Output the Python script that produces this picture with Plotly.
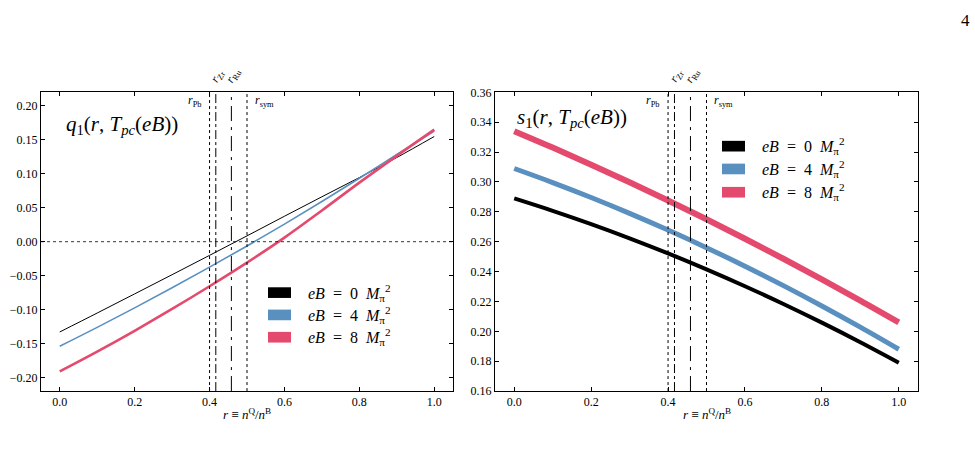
import plotly.graph_objects as go

W, H = 975, 464

# ---------------- data ----------------
r = [0.0, 0.1, 0.2, 0.3, 0.4, 0.5, 0.6, 0.7, 0.8, 0.9, 1.0]

q1_eB0 = [-0.133, -0.1051, -0.0769, -0.0486, -0.0201, 0.0086, 0.0375, 0.0662, 0.0945, 0.1240, 0.155]
q1_eB4 = [-0.154, -0.1262, -0.0975, -0.0679, -0.0375, -0.0063, 0.0259, 0.0593, 0.0935, 0.1285, 0.163]
q1_eB8 = [-0.191, -0.1618, -0.1312, -0.0991, -0.0656, -0.0308, 0.0060, 0.0460, 0.0870, 0.1265, 0.165]

s1_eB0 = [0.289, 0.2807, 0.2718, 0.2623, 0.2522, 0.2415, 0.2302, 0.2183, 0.2058, 0.1927, 0.179]
s1_eB4 = [0.309, 0.2996, 0.2896, 0.2790, 0.2678, 0.2560, 0.2436, 0.2306, 0.2170, 0.2028, 0.188]
s1_eB8 = [0.334, 0.3230, 0.3116, 0.2998, 0.2876, 0.2750, 0.2620, 0.2486, 0.2348, 0.2206, 0.206]

r_marks = {"Pb": 0.400, "Zr": 0.4167, "Ru": 0.4583, "sym": 0.500}
r_styles = {"Pb": "dot", "Zr": "dashdot", "Ru": "longdashdot", "sym": "dot"}

eB_labels = ["0", "4", "8"]
colors = ["#000000", "#5a90c0", "#e44a6d"]

xticks = [0.0, 0.2, 0.4, 0.6, 0.8, 1.0]
q_ticks = [-0.20, -0.15, -0.10, -0.05, 0.00, 0.05, 0.10, 0.15, 0.20]
s_ticks = [0.16, 0.18, 0.20, 0.22, 0.24, 0.26, 0.28, 0.30, 0.32, 0.34, 0.36]

# ---------------- layout helpers ----------------
def px(x):
    return x / W

def py(y):
    return 1 - y / H

FONT = "Liberation Serif"
L_dom = [px(41), px(453)]
R_dom = [px(495), px(918)]
Y_dom = [py(396), py(88)]

fig = go.Figure()

q_series = [q1_eB0, q1_eB4, q1_eB8]
s_series = [s1_eB0, s1_eB4, s1_eB8]
q_widths = [1.0, 1.6, 2.6]
s_widths = [4.0, 5.0, 6.0]

for i in range(3):
    fig.add_trace(go.Scatter(x=r, y=q_series[i], mode="lines", line=dict(color=colors[i], width=q_widths[i], shape="spline"),
                             xaxis="x", yaxis="y", showlegend=False, hoverinfo="skip"))
for i in range(3):
    fig.add_trace(go.Scatter(x=r, y=s_series[i], mode="lines", line=dict(color=colors[i], width=s_widths[i], shape="spline"),
                             xaxis="x2", yaxis="y2", showlegend=False, hoverinfo="skip"))

axis_common = dict(ticks="inside", ticklen=4, tickwidth=1, tickcolor="black", showline=True, linecolor="black",
                   linewidth=1, mirror="ticks", showgrid=False, zeroline=False,
                   tickfont=dict(family=FONT, size=12, color="black"))

fig.update_layout(
    width=W, height=H, margin=dict(l=0, r=0, t=0, b=0),
    paper_bgcolor="white", plot_bgcolor="white",
    xaxis=dict(domain=L_dom, range=[-0.05, 1.05], tickvals=xticks, ticktext=[f"{v:.1f}" for v in xticks],
               anchor="y", **axis_common),
    yaxis=dict(domain=Y_dom, range=[-0.22, 0.22], tickvals=q_ticks, ticktext=[f"{v:.2f}".replace("-", "\u2212") for v in q_ticks],
               anchor="x", **axis_common),
    xaxis2=dict(domain=R_dom, range=[-0.05, 1.05], tickvals=xticks, ticktext=[f"{v:.1f}" for v in xticks],
                anchor="y2", **axis_common),
    yaxis2=dict(domain=Y_dom, range=[0.16, 0.36], tickvals=s_ticks, ticktext=[f"{v:.2f}" for v in s_ticks],
                anchor="x2", **axis_common),
)

shapes = []
annotations = []

# zero line in left panel
shapes.append(dict(type="line", xref="x domain", yref="y", x0=0, x1=1, y0=0, y1=0,
                   line=dict(color="black", width=0.8, dash="dot")))

# vertical isotope lines
for xa, ya in [("x", "y"), ("x2", "y2")]:
    for k, v in r_marks.items():
        shapes.append(dict(type="line", xref=xa, yref=ya + " domain", x0=v, x1=v, y0=0, y1=1,
                           line=dict(color="black", width=1, dash=r_styles[k])))

def ann(x, y, text, size=12, xanchor="center", yanchor="middle", angle=0, xref="paper", yref="paper"):
    annotations.append(dict(x=x, y=y, xref=xref, yref=yref, text=text, showarrow=False,
                            xanchor=xanchor, yanchor=yanchor, textangle=angle,
                            font=dict(family=FONT, size=size, color="black")))

# isotope labels
for xa in ["x", "x2"]:
    ann(r_marks["Pb"] - 0.015, py(97), "<i>r</i><sub>Pb</sub>", size=12, xanchor="right", xref=xa)
    ann(r_marks["sym"] + 0.015, py(97), "<i>r</i><sub>sym</sub>", size=12, xanchor="left", xref=xa)
    ann(r_marks["Zr"] + 0.005, py(71), "<i>r</i><sub>Zr</sub>", size=12, angle=-60, xref=xa)
    ann(r_marks["Ru"] + 0.005, py(71), "<i>r</i><sub>Ru</sub>", size=12, angle=-60, xref=xa)

# panel titles
ann(px(64), py(122), "<i>q</i><sub>1</sub>(<i>r</i>, <i>T<sub>pc</sub></i>(<i>eB</i>))", size=21, xanchor="left")
ann(px(515), py(114), "<i>s</i><sub>1</sub>(<i>r</i>, <i>T<sub>pc</sub></i>(<i>eB</i>))", size=21, xanchor="left")

# axis titles
ann((L_dom[0] + L_dom[1]) / 2, py(420), "<i>r</i> ≡ <i>n</i><sup>Q</sup>/<i>n</i><sup>B</sup>", size=13)
ann((R_dom[0] + R_dom[1]) / 2, py(420), "<i>r</i> ≡ <i>n</i><sup>Q</sup>/<i>n</i><sup>B</sup>", size=13)

# page number
ann(px(965), py(14), "4", size=17)

# legends
def legend(x_box, ys):
    for i, yc in enumerate(ys):
        shapes.append(dict(type="rect", xref="paper", yref="paper", x0=px(x_box), x1=px(x_box + 23),
                           y0=py(yc + 5.5), y1=py(yc - 5.5), fillcolor=colors[i], line=dict(width=0)))
        ann(px(x_box + 38), py(yc), f"<i>eB</i>  =  {eB_labels[i]}  <i>M</i><sub>π</sub><sup>2</sup>",
            size=16, xanchor="left")

legend(268, [294.5, 317.5, 340.5])
legend(722, [143.5, 167, 191])

fig.update_layout(shapes=shapes, annotations=annotations)
fig.write_html("out.html")
